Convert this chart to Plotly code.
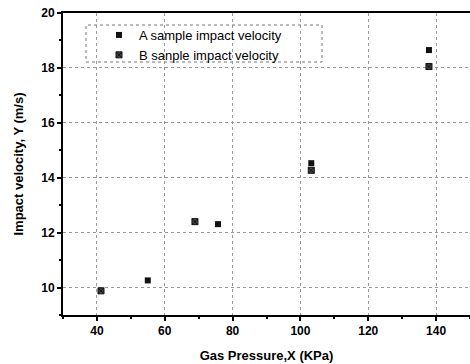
import plotly.graph_objects as go

a_x = [55, 75.7, 103.2, 137.9]
a_y = [10.26, 12.31, 14.53, 18.65]
b_x = [41.2, 68.9, 103.2, 137.9]
b_y = [9.88, 12.40, 14.27, 18.05]

x_ticks = [40, 60, 80, 100, 120, 140]
y_ticks = [10, 12, 14, 16, 18, 20]

FONT = "Liberation Sans, Arial, sans-serif"

fig = go.Figure()
fig.add_trace(go.Scatter(x=a_x, y=a_y, mode="markers", name="A sample impact velocity",
                         marker=dict(symbol="square", size=6, color="#111111")))
fig.add_trace(go.Scatter(x=b_x, y=b_y, mode="markers", name="B sanple impact velocity",
                         marker=dict(symbol="square-x", size=6, color="#444444",
                                     line=dict(color="#111111", width=1))))

axis_common = dict(showline=True, linecolor="black", linewidth=2,
                   showgrid=True, gridcolor="#999999", griddash="dot", gridwidth=1,
                   ticks="outside", ticklen=4, tickwidth=1.5, tickcolor="black",
                   zeroline=False,
                   tickfont=dict(family=FONT, size=12, color="black", weight="bold"),
                   minor=dict(ticks="outside", ticklen=2, tickcolor="black", showgrid=False))

fig.update_xaxes(range=[30, 150], tickvals=x_ticks, mirror=True,
                 title=dict(text="Gas Pressure,X (KPa)", standoff=13,
                            font=dict(family=FONT, size=13, color="black", weight="bold")),
                 **axis_common)
fig.update_yaxes(range=[9, 20], tickvals=y_ticks, mirror=False,
                 title=dict(text="Impact velocity, Y (m/s)", standoff=15,
                            font=dict(family=FONT, size=13, color="black", weight="bold")),
                 **axis_common)
fig.update_xaxes(minor=dict(dtick=10, tick0=30))
fig.update_yaxes(minor=dict(dtick=1, tick0=9))

fig.add_shape(type="rect", xref="paper", yref="paper",
              x0=(86 - 63) / 407, x1=(322 - 63) / 407,
              y0=(315 - 62) / 302, y1=(315 - 25) / 302,
              line=dict(color="#777777", width=1, dash="dot"), fillcolor="white", layer="below")

fig.update_layout(
    width=470, height=364,
    margin=dict(l=63, r=0, t=13, b=49),
    plot_bgcolor="white", paper_bgcolor="white",
    showlegend=True,
    legend=dict(x=(99 - 63) / 407, y=(315 - 20) / 302, xanchor="left", yanchor="top",
                bgcolor="rgba(0,0,0,0)", borderwidth=0,
                font=dict(family=FONT, size=13, color="black"),
                tracegroupgap=0),
)

fig.write_html("out.html")
